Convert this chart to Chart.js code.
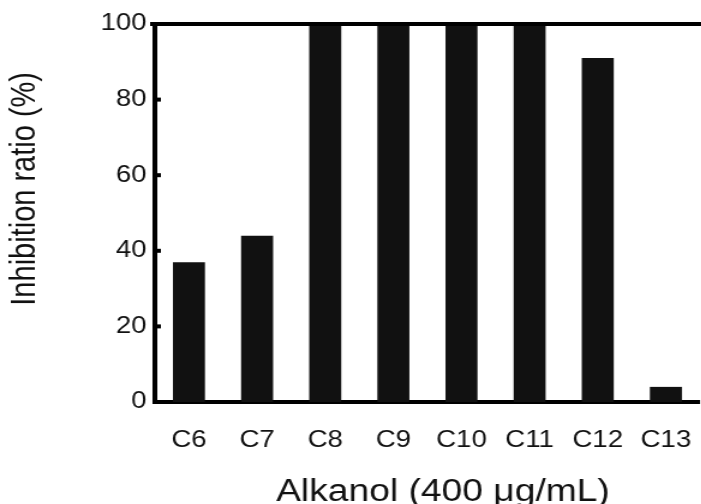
<!DOCTYPE html>
<html>
<head>
<meta charset="utf-8">
<script src="https://cdn.jsdelivr.net/npm/chart.js@4"></script>
<style>
  html, body { margin: 0; padding: 0; background: #fff; overflow: hidden; }
</style>
</head>
<body>
<!-- the scanned figure is stretched sideways, so the canvas is shown wider than it is drawn -->
<canvas id="chart" width="593" height="504" style="width:712px;height:504px;display:block"></canvas>
<script>
const alkanols = ['C6', 'C7', 'C8', 'C9', 'C10', 'C11', 'C12', 'C13'];
const inhibition = [37, 44, 100, 100, 100, 100, 91, 4];
const yTicks = [0, 20, 40, 60, 80, 100];

const font = "'Liberation Sans', Arial, sans-serif";
const ink = '#000';

// top frame line and inward y ticks
const frame = {
  id: 'frame',
  afterDraw(chart) {
    const ctx = chart.ctx;
    const a = chart.chartArea;
    const y = chart.scales.y;
    ctx.save();
    ctx.fillStyle = ink;
    ctx.fillRect(a.left - 4, y.getPixelForValue(100) - 2, a.right - a.left + 20, 4);
    yTicks.forEach(v => {
      ctx.fillRect(a.left, y.getPixelForValue(v) - 2, 5, 4);
    });
    ctx.restore();
  }
};

new Chart(document.getElementById('chart'), {
  type: 'bar',
  data: {
    labels: alkanols,
    datasets: [{
      data: inhibition,
      backgroundColor: '#111',
      categoryPercentage: 1,
      barPercentage: 0.47
    }]
  },
  options: {
    responsive: false,
    devicePixelRatio: 1,
    animation: false,
    layout: { padding: { left: 0, right: 5, top: 24, bottom: 0 } },
    plugins: { legend: { display: false }, tooltip: { enabled: false } },
    scales: {
      x: {
        grid: { display: false },
        border: { color: ink, width: 4 },
        ticks: { color: '#111', font: { family: font, size: 23 }, padding: 17, maxRotation: 0 },
        title: {
          display: true,
          text: '   Alkanol (400 \u03bcg/mL)',
          color: '#111',
          font: { family: font, size: 31 },
          padding: { top: 0, bottom: -7 }
        },
        afterFit(s) { s.height = 102; }
      },
      y: {
        min: 0,
        max: 100,
        grid: { display: false, drawTicks: false },
        border: { color: ink, width: 4 },
        afterBuildTicks(s) { s.ticks = yTicks.map(v => ({ value: v })); },
        ticks: { color: '#111', font: { family: font, size: 23 }, padding: 7 },
        title: {
          display: true,
          text: '      Inhibition ratio (%)',
          color: '#111',
          font: { family: font, size: 29 },
          padding: { top: 4, bottom: 0 }
        },
        afterFit(s) { s.width = 129; }
      }
    }
  },
  plugins: [frame]
});
</script>
</body>
</html>
